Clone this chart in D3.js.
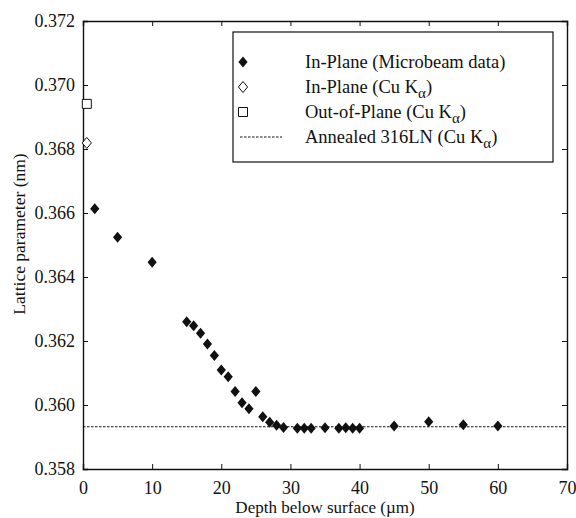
<!DOCTYPE html>
<html>
<head>
<meta charset="utf-8">
<script src="https://cdn.jsdelivr.net/npm/d3@7"></script>
<style>
  body { margin: 0; background: #fff; }
  text { font-family: "Liberation Serif", "Times New Roman", serif; fill: #111; }
  .axis path, .axis line { stroke: #111; }
</style>
</head>
<body>
<svg id="chart" width="576" height="518"></svg>
<script>
// in-plane microbeam data
const depth = [1.7, 5, 10, 15, 16, 17, 18, 19, 20, 21, 22, 23, 24, 25, 26, 27, 28, 29, 31, 32, 33, 35, 37, 38, 39, 40, 45, 50, 55, 60];
const latticeMicro = [0.36613, 0.36524, 0.36446, 0.3626, 0.36248, 0.36224, 0.36191, 0.36155, 0.36109, 0.36088, 0.36042, 0.36007, 0.35988, 0.36042, 0.35963, 0.35946, 0.35937, 0.3593, 0.35927, 0.35927, 0.35927, 0.35929, 0.35927, 0.35929, 0.35927, 0.35927, 0.35934, 0.35948, 0.35938, 0.35934];

// Cu K-alpha points
const inPlaneCu = [{ x: 0.55, y: 0.36819 }];
const outPlaneCu = [{ x: 0.55, y: 0.36941 }];
const annealed = 0.35932;

const xTicks = [0, 10, 20, 30, 40, 50, 60, 70];
const yTicks = [0.358, 0.360, 0.362, 0.364, 0.366, 0.368, 0.370, 0.372];

const margin = { top: 21, right: 9, bottom: 49, left: 83 };
const width = 576 - margin.left - margin.right;
const height = 518 - margin.top - margin.bottom;

const svg = d3.select("#chart");
const g = svg.append("g").attr("transform", `translate(${margin.left},${margin.top})`);

const x = d3.scaleLinear().domain([0, 70]).range([0, width]);
const y = d3.scaleLinear().domain([0.358, 0.372]).range([height, 0]);

// frame + inward ticks
g.append("g").attr("class", "axis")
  .attr("transform", `translate(0,${height})`)
  .call(d3.axisBottom(x).tickValues(xTicks).tickSize(-5).tickPadding(12).tickFormat(d3.format("d")))
  .call(a => a.selectAll("text").style("font-size", "18px"));

g.append("g").attr("class", "axis")
  .call(d3.axisLeft(y).tickValues(yTicks).tickSize(-5).tickPadding(8).tickFormat(d3.format(".3f")))
  .call(a => a.selectAll("text").style("font-size", "18px"));

g.append("g").attr("class", "axis")
  .call(d3.axisTop(x).tickValues(xTicks).tickSize(-5).tickFormat(""));

g.append("g").attr("class", "axis")
  .attr("transform", `translate(${width},0)`)
  .call(d3.axisRight(y).tickValues(yTicks).tickSize(-5).tickFormat(""));

svg.selectAll(".axis path").attr("stroke-width", 1.4);

// annealed reference line
g.append("line")
  .attr("x1", x(0)).attr("x2", x(70))
  .attr("y1", y(annealed)).attr("y2", y(annealed))
  .attr("stroke", "#111").attr("stroke-width", 1)
  .attr("stroke-dasharray", "2.5,1.5");

const diamond = "M0,-5.5L4.6,0L0,5.5L-4.6,0Z";
const square = "M-4.5,-4.5H4.5V4.5H-4.5Z";

g.selectAll(".micro")
  .data(depth.map((d, i) => ({ x: d, y: latticeMicro[i] })))
  .join("path")
  .attr("class", "micro")
  .attr("d", diamond)
  .attr("transform", d => `translate(${x(d.x)},${y(d.y)})`)
  .attr("fill", "#111");

g.selectAll(".inplane")
  .data(inPlaneCu)
  .join("path")
  .attr("class", "inplane")
  .attr("d", diamond)
  .attr("transform", d => `translate(${x(d.x)},${y(d.y)})`)
  .attr("fill", "#fff").attr("stroke", "#111").attr("stroke-width", 1);

g.selectAll(".outplane")
  .data(outPlaneCu)
  .join("path")
  .attr("class", "outplane")
  .attr("d", square)
  .attr("transform", d => `translate(${x(d.x)},${y(d.y)})`)
  .attr("fill", "#fff").attr("stroke", "#111").attr("stroke-width", 1);

// axis titles
svg.append("text")
  .attr("x", 325)
  .attr("y", 513)
  .attr("text-anchor", "middle")
  .style("font-size", "17px")
  .text("Depth below surface (\u00b5m)");

svg.append("text")
  .attr("transform", "translate(25,234) rotate(-90)")
  .attr("text-anchor", "middle")
  .style("font-size", "17.5px")
  .text("Lattice parameter (nm)");

// legend
const legend = svg.append("g");
legend.append("rect")
  .attr("x", 233).attr("y", 32).attr("width", 320).attr("height", 130)
  .attr("fill", "#fff").attr("stroke", "#111").attr("stroke-width", 1.2);

const legendRows = [
  { label: "In-Plane (Microbeam data)", kind: "fill", sub: false },
  { label: "In-Plane (Cu K", kind: "open", sub: true },
  { label: "Out-of-Plane (Cu K", kind: "square", sub: true },
  { label: "Annealed 316LN (Cu K", kind: "line", sub: true }
];

legendRows.forEach((r, i) => {
  const cy = 62 + i * 25;
  if (r.kind === "fill") {
    legend.append("path").attr("d", diamond).attr("transform", `translate(243,${cy})`).attr("fill", "#111");
  } else if (r.kind === "open") {
    legend.append("path").attr("d", diamond).attr("transform", `translate(243,${cy})`)
      .attr("fill", "#fff").attr("stroke", "#111");
  } else if (r.kind === "square") {
    legend.append("path").attr("d", square).attr("transform", `translate(243,${cy})`)
      .attr("fill", "#fff").attr("stroke", "#111");
  } else {
    legend.append("line").attr("x1", 240).attr("x2", 282).attr("y1", cy).attr("y2", cy)
      .attr("stroke", "#111").attr("stroke-dasharray", "2.5,1.5");
  }
  const t = legend.append("text").attr("x", 305).attr("y", cy + 6).style("font-size", "18.5px");
  t.append("tspan").text(r.label);
  if (r.sub) {
    t.append("tspan").attr("dy", 5).style("font-size", "15px").text("\u03b1");
    t.append("tspan").attr("dy", -5).text(")");
  }
});
</script>
</body>
</html>
